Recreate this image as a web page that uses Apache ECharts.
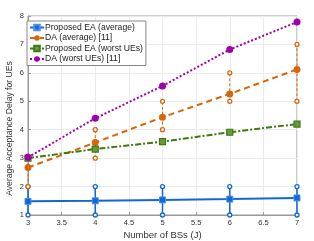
<!DOCTYPE html>
<html><head><meta charset="utf-8">
<script src="https://cdn.jsdelivr.net/npm/echarts@6/dist/echarts.min.js"></script>
<style>html,body{margin:0;padding:0;background:#fff}#c{width:314px;height:241px}</style>
</head><body><div id="c"></div>
<script>
const xs = [3, 4, 5, 6, 7];
const eaAvg = [1.48, 1.50, 1.53, 1.56, 1.60];
const eaAvgLo = [1, 1, 1, 1, 1];
const eaAvgHi = [2, 2, 2, 2, 2];
const daAvg = [2.67, 3.55, 4.44, 5.26, 6.12];
const daAvgLo = [2, 3, 4, 5, 5];
const daAvgHi = [3, 4, 5, 6, 7];
const eaWorst = [3.0, 3.32, 3.58, 3.91, 4.2];
const daWorst = [3.03, 4.4, 5.54, 6.82, 7.79];
const names = ['Proposed EA (average)', 'DA (average) [11]', 'Proposed EA (worst UEs)', 'DA (worst UEs) [11]'];
const cBlue = '#1167d6', cOrange = '#d9650a', cGreen = '#3d7a0f', cPurple = '#a000aa';

function pts(ys){ return xs.map((x,i)=>[x, ys[i]]); }
function errSeries(lo, hi, color, w, dash){
  return {
    type: 'custom', name: 'err', silent: true, z: 3,
    data: xs.map((x,i)=>[x, lo[i], hi[i]]),
    renderItem: function(params, api){
      const a = api.coord([api.value(0), api.value(1)]);
      const b = api.coord([api.value(0), api.value(2)]);
      return {type:'group', children:[
        {type:'line', shape:{x1:a[0],y1:a[1],x2:b[0],y2:b[1]}, style:{stroke:color, lineWidth:w, lineDash:dash}},
        {type:'circle', shape:{cx:a[0],cy:a[1],r:2}, style:{stroke:color, fill:'#fff', lineWidth:1.3}},
        {type:'circle', shape:{cx:b[0],cy:b[1],r:2}, style:{stroke:color, fill:'#fff', lineWidth:1.3}}
      ]};
    }
  };
}

const font = 'Liberation Sans, Arial, sans-serif';
const chart = echarts.init(document.getElementById('c'), null, {renderer:'canvas'});
chart.setOption({
  animation: false,
  grid: {left: 28, right: 17, top: 16, bottom: 26, outerBoundsMode: 'none', containLabel: false,
         show: true, borderColor: '#999', borderWidth: 1},
  legend: {
    data: names, orient: 'vertical', left: 27, top: 21, padding: [2, 3, 2, 2],
    itemGap: 1.5, itemWidth: 14, itemHeight: 7,
    borderColor: '#888', borderWidth: 1, backgroundColor: '#fff',
    textStyle: {fontSize: 8.6, color: '#222', fontFamily: font, padding: [0, 0, 0, -4]},
  },
  xAxis: {
    type: 'value', min: 3, max: 7, interval: 0.5,
    name: 'Number of BSs (J)', nameLocation: 'middle', nameGap: 15, nameMoveOverlap: false,
    nameTextStyle: {fontSize: 9.5, color: '#333', fontFamily: font},
    axisLine: {lineStyle: {color: '#999'}},
    axisTick: {inside: true, length: 3, lineStyle: {color: '#999'}},
    axisLabel: {fontSize: 7.5, color: '#333', margin: 4, fontFamily: font},
    splitLine: {lineStyle: {color: '#ebebeb'}}
  },
  yAxis: {
    type: 'value', min: 1, max: 8, interval: 1,
    name: 'Average Acceptance Delay for UEs', nameLocation: 'middle', nameGap: 14, nameMoveOverlap: false,
    nameTextStyle: {fontSize: 8.6, color: '#333', fontFamily: font, padding: [0, 26, 0, 0]},
    axisLine: {show: true, lineStyle: {color: '#999'}},
    axisTick: {show: true, inside: true, length: 3, lineStyle: {color: '#999'}},
    axisLabel: {fontSize: 7.5, color: '#333', margin: 4, fontFamily: font},
    splitLine: {lineStyle: {color: '#ebebeb'}}
  },
  series: [
    errSeries(eaAvgLo, eaAvgHi, cBlue, 1.5, null),
    errSeries(daAvgLo, daAvgHi, cOrange, 1, [3, 2]),
    {name: names[0], type: 'line', data: pts(eaAvg), z: 4, symbol: 'rect', symbolSize: 6,
     lineStyle: {color: cBlue, width: 2}, itemStyle: {color: cBlue, borderColor: '#4a90e8', borderWidth: 1}},
    {name: names[1], type: 'line', data: pts(daAvg), z: 4, symbol: 'circle', symbolSize: 7,
     lineStyle: {color: cOrange, width: 2, type: [6, 4]}, itemStyle: {color: cOrange}},
    {name: names[2], type: 'line', data: pts(eaWorst), z: 4, symbol: 'rect', symbolSize: 6,
     lineStyle: {color: cGreen, width: 2, type: [6, 2, 2, 2]}, itemStyle: {color: '#6a9a40', borderColor: cGreen, borderWidth: 1.2}},
    {name: names[3], type: 'line', data: pts(daWorst), z: 4, symbol: 'circle', symbolSize: 7,
     lineStyle: {color: cPurple, width: 2, type: [2, 2]}, itemStyle: {color: cPurple}}
  ]
});
</script></body></html>
